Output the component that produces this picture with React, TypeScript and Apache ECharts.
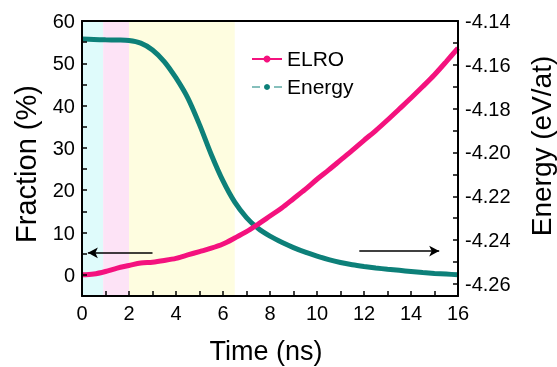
import React, { useEffect, useRef } from "react";
import * as echarts from "echarts";

const times = [0, 0.5, 1, 1.5, 2, 2.5, 3, 3.5, 4, 4.5, 5, 5.5, 6, 6.5, 7, 7.5, 8, 8.5, 9, 9.5, 10, 10.5, 11, 11.5, 12, 12.5, 13, 13.5, 14, 14.5, 15, 15.5, 16];
const elro = [0.0, 0.2, 0.8, 1.6, 2.2, 2.8, 3.0, 3.4, 3.9, 4.7, 5.5, 6.3, 7.3, 8.7, 10.2, 12.0, 13.9, 15.8, 18.0, 20.2, 22.6, 24.8, 27.1, 29.4, 31.8, 34.1, 36.6, 39.2, 41.8, 44.5, 47.3, 50.4, 53.6];
const energy = [-4.1482, -4.1484, -4.1486, -4.1487, -4.1489, -4.1501, -4.1532, -4.1585, -4.166, -4.1751, -4.1873, -4.2009, -4.213, -4.2227, -4.2297, -4.2347, -4.2382, -4.241, -4.2434, -4.2455, -4.2473, -4.2489, -4.2502, -4.2512, -4.252, -4.2527, -4.2533, -4.2538, -4.2543, -4.2548, -4.2552, -4.2555, -4.2558];
const phaseBounds = [0, 0.9, 2, 6.5];
const phaseColors = ["#dffbfb", "#fde3f6", "#fefde0"];
const rightTicks = [-4.26, -4.25, -4.24, -4.23, -4.22, -4.21, -4.2, -4.19, -4.18, -4.17, -4.16, -4.15, -4.14];
const rightLabels = [-4.26, -4.24, -4.22, -4.2, -4.18, -4.16, -4.14];
const leftArrow = [[3, 5.2], [0.25, 5.2]];
const rightArrow = [[11.8, -4.245], [15.2, -4.245]];

const PINK = "#f4127e";
const TEAL = "#0d8079";
const FONT = "Arial, 'Liberation Sans', sans-serif";

export default function App() {
  const ref = useRef<HTMLDivElement>(null);
  useEffect(() => {
    if (!ref.current) return;
    const chart = echarts.init(ref.current, undefined, { renderer: "svg" });
    const labelStyle = { color: "#000", fontSize: 20, fontFamily: FONT };
    const axisLine = { show: true, onZero: false, lineStyle: { color: "#000", width: 2 } };
    const markAreaData = phaseColors.map((c, i) => [
      { xAxis: phaseBounds[i], itemStyle: { color: c } },
      { xAxis: phaseBounds[i + 1] },
    ]);
    chart.setOption({
      animation: false,
      grid: { left: 82, right: 99, top: 21, bottom: 71, show: false },
      xAxis: [
        {
          type: "value",
          min: 0,
          max: 16,
          interval: 1,
          axisLine,
          axisTick: { show: true, inside: true, length: 5, lineStyle: { color: "#000", width: 1.5 } },
          axisLabel: { ...labelStyle, margin: 7, formatter: (v: number) => (v % 2 === 0 ? String(v) : "") },
          splitLine: { show: false },
          z: 10,
        },
        {
          type: "value",
          position: "top",
          min: 0,
          max: 16,
          interval: 1,
          axisLine,
          axisTick: { show: false },
          axisLabel: { show: false },
          splitLine: { show: false },
          z: 10,
        },
      ],
      yAxis: [
        {
          type: "value",
          position: "left",
          min: -5,
          max: 60,
          interval: 5,
          axisLine,
          axisTick: { show: true, inside: true, length: 5, lineStyle: { color: "#000", width: 1.5 } },
          axisLabel: { ...labelStyle, margin: 7, formatter: (v: number) => (v % 10 === 0 ? String(v) : "") },
          splitLine: { show: false },
          z: 10,
        },
        {
          type: "value",
          position: "right",
          min: -4.2655,
          max: -4.14,
          axisLine,
          axisTick: { show: true, inside: true, length: 5, customValues: rightTicks, lineStyle: { color: "#000", width: 1.5 } },
          axisLabel: { ...labelStyle, margin: 7, customValues: rightLabels, formatter: (v: number) => v.toFixed(2) },
          splitLine: { show: false },
          z: 10,
        },
      ],
      series: [
        {
          name: "Energy",
          type: "line",
          yAxisIndex: 1,
          data: times.map((t, i) => [t, energy[i]]),
          showSymbol: false,
          smooth: 0.3,
          lineStyle: { color: TEAL, width: 5 },
          itemStyle: { color: TEAL },
          z: 3,
          markArea: { silent: true, data: markAreaData, z: 1 },
          markLine: {
            silent: true,
            symbol: ["none", "arrow"],
            symbolSize: [8, 10],
            label: { show: false },
            lineStyle: { color: "#000", width: 1.5, type: "solid" },
            data: [[{ coord: rightArrow[0] }, { coord: rightArrow[1] }]],
          },
        },
        {
          name: "ELRO",
          type: "line",
          yAxisIndex: 0,
          data: times.map((t, i) => [t, elro[i]]),
          showSymbol: false,
          smooth: 0.3,
          lineStyle: { color: PINK, width: 5 },
          itemStyle: { color: PINK },
          z: 4,
          markLine: {
            silent: true,
            symbol: ["none", "arrow"],
            symbolSize: [8, 10],
            label: { show: false },
            lineStyle: { color: "#000", width: 1.5, type: "solid" },
            data: [[{ coord: leftArrow[0] }, { coord: leftArrow[1] }]],
          },
        },
      ],
      graphic: [
        { type: "text", x: 26, y: 164, rotation: Math.PI / 2, style: { text: "Fraction (%)", fill: "#000", font: `29px ${FONT}`, textAlign: "center", textVerticalAlign: "middle" } },
        { type: "text", x: 541, y: 146, rotation: Math.PI / 2, style: { text: "Energy (eV/at)", fill: "#000", font: `28px ${FONT}`, textAlign: "center", textVerticalAlign: "middle" } },
        { type: "text", x: 266, y: 351, style: { text: "Time (ns)", fill: "#000", font: `27px ${FONT}`, textAlign: "center", textVerticalAlign: "middle" } },
        { type: "line", shape: { x1: 252, y1: 59, x2: 282, y2: 59 }, style: { stroke: PINK, lineWidth: 2 } },
        { type: "circle", shape: { cx: 267, cy: 59, r: 3.5 }, style: { fill: PINK } },
        { type: "text", x: 287, y: 58, style: { text: "ELRO", fill: "#000", font: `21px ${FONT}`, textAlign: "left", textVerticalAlign: "middle" } },
        { type: "line", shape: { x1: 252, y1: 87, x2: 260, y2: 87 }, style: { stroke: TEAL, lineWidth: 1 } },
        { type: "line", shape: { x1: 274, y1: 87, x2: 282, y2: 87 }, style: { stroke: TEAL, lineWidth: 1 } },
        { type: "circle", shape: { cx: 267, cy: 87, r: 3 }, style: { fill: TEAL } },
        { type: "text", x: 287, y: 86, style: { text: "Energy", fill: "#000", font: `21px ${FONT}`, textAlign: "left", textVerticalAlign: "middle" } },
      ],
    });
    return () => chart.dispose();
  }, []);
  return <div ref={ref} style={{ position: "fixed", left: 0, top: 0, width: 557, height: 367 }} />;
}
